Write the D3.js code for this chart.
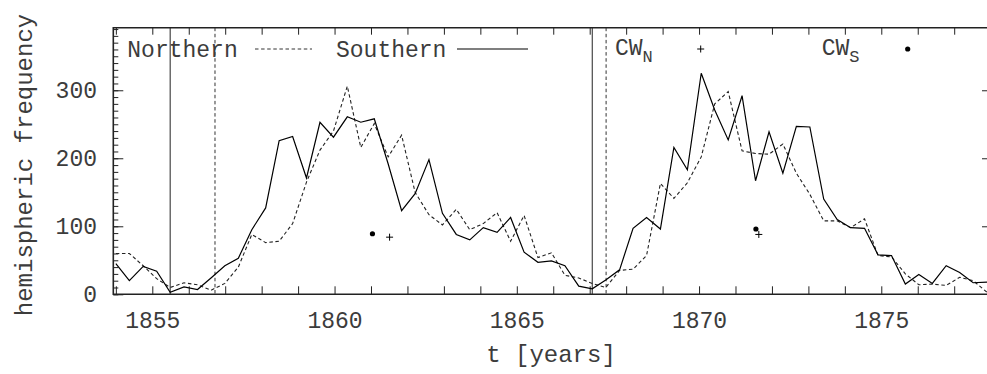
<!DOCTYPE html>
<html>
<head>
<meta charset="utf-8">
<script src="https://cdn.jsdelivr.net/npm/d3@7"></script>
<style>
  html, body { margin: 0; padding: 0; background: #fff; }
  svg { display: block; }
  text { font-family: "Liberation Mono", "DejaVu Sans Mono", monospace; fill: #3c3c3c; }
</style>
</head>
<body>
<svg id="chart" width="987" height="374"></svg>
<script>
// Sampling epochs (years), one every five solar rotations
const years = [
  1854.00, 1854.37, 1854.75, 1855.12, 1855.49, 1855.87, 1856.24, 1856.61, 1856.99, 1857.36,
  1857.73, 1858.11, 1858.48, 1858.85, 1859.23, 1859.60, 1859.97, 1860.35, 1860.72, 1861.09,
  1861.47, 1861.84, 1862.21, 1862.59, 1862.96, 1863.34, 1863.71, 1864.08, 1864.46, 1864.83,
  1865.20, 1865.58, 1865.95, 1866.32, 1866.70, 1867.07, 1867.44, 1867.82, 1868.19, 1868.56,
  1868.94, 1869.31, 1869.68, 1870.06, 1870.43, 1870.80, 1871.18, 1871.55, 1871.92, 1872.30,
  1872.67, 1873.04, 1873.42, 1873.79, 1874.16, 1874.54, 1874.91, 1875.28, 1875.66, 1876.03,
  1876.40, 1876.78, 1877.15, 1877.52, 1877.90
];

// Hemispheric frequency, northern hemisphere (dashed)
const northern = [
  60, 60, 42, 23, 10, 17, 14, 6, 16, 40,
  88, 76, 78, 104, 165, 212, 240, 306, 216, 251,
  202, 234, 150, 117, 102, 125, 95, 104, 120, 78,
  116, 54, 61, 28, 24, 16, 10, 35, 37, 57,
  163, 141, 164, 202, 280, 298, 211, 207, 206, 221,
  178, 147, 108, 108, 98, 111, 57, 55, 30, 14,
  15, 13, 25, 20, 3
];

// Hemispheric frequency, southern hemisphere (solid)
const southern = [
  45, 20, 41, 34, 3, 11, 7, 24, 42, 53,
  95, 127, 226, 232, 171, 253, 231, 261, 253, 258,
  192, 123, 148, 198, 119, 88, 80, 98, 91, 113,
  62, 47, 49, 42, 12, 8, 21, 36, 97, 113,
  96, 216, 183, 325, 271, 227, 292, 167, 239, 178,
  247, 246, 140, 110, 98, 97, 58, 57, 15, 29,
  16, 42, 32, 17, 18
];

// Epochs of cycle minima
const southernMinima = [1855.49, 1867.07];
const northernMinima = [1856.72, 1867.45];

// CW markers: epoch and frequency
const cwNYears = [1861.51, 1871.64];
const cwNValues = [84, 88];
const cwSYears = [1861.04, 1871.56];
const cwSValues = [89, 96];

// Axis ticks and labels
const xTickYears = d3.range(1854, 1878);
const xTickLabels = [1855, 1860, 1865, 1870, 1875];
const yTickLabels = [0, 100, 200, 300];
const yMinorTicks = d3.range(0, 400, 10);

const svg = d3.select("#chart");
const plotL = 113.3, plotR = 987, plotT = 27.7, plotB = 294.3;

const x = d3.scaleLinear().domain([1853.93, 1877.9]).range([plotL, plotR]);
const y = d3.scaleLinear().domain([0, 392]).range([plotB, plotT]);

svg.append("defs").append("clipPath").attr("id", "plotclip")
  .append("rect").attr("x", plotL).attr("y", plotT)
  .attr("width", plotR - plotL).attr("height", plotB - plotT);

const tickStyle = g => {
  g.select(".domain").remove();
  g.selectAll(".tick line").attr("stroke", "#222").attr("stroke-width", 1);
  g.selectAll(".tick text")
    .attr("font-family", "Liberation Mono, DejaVu Sans Mono, monospace")
    .attr("font-size", 23).attr("fill", "#3c3c3c");
};

// Bottom axis: yearly ticks pointing inward, labelled every five years
svg.append("g").attr("transform", `translate(0,${plotB})`)
  .call(d3.axisBottom(x).tickValues(xTickYears).tickSize(-8).tickPadding(17)
    .tickFormat(d => xTickLabels.includes(d) ? String(d) : ""))
  .call(tickStyle);

// Top axis: mirrored ticks
svg.append("g").attr("transform", `translate(0,${plotT})`)
  .call(d3.axisTop(x).tickValues(xTickYears).tickSize(-7).tickFormat(""))
  .call(tickStyle);

// Left axis: minor ticks every 10, major ticks with labels
svg.append("g").attr("transform", `translate(${plotL},0)`)
  .call(d3.axisLeft(y).tickValues(yMinorTicks).tickSize(-5).tickFormat(""))
  .call(tickStyle);
svg.append("g").attr("transform", `translate(${plotL},0)`)
  .call(d3.axisLeft(y).tickValues(yTickLabels).tickSize(-10).tickPadding(16.3)
    .tickFormat(d => String(d)))
  .call(tickStyle);

// Right axis: short inward ticks
svg.append("g").attr("transform", `translate(${plotR},0)`)
  .call(d3.axisRight(y).tickValues(yTickLabels.filter(d => d > 0)).tickSize(-5).tickFormat(""))
  .call(tickStyle);

// Frame
svg.append("path")
  .attr("d", `M${plotR},${plotT}H${plotL}V${plotB}H${plotR}`)
  .attr("fill", "none").attr("stroke", "#222").attr("stroke-width", 1.6);

const plot = svg.append("g").attr("clip-path", "url(#plotclip)");

// Minimum epochs
plot.selectAll(".minS").data(southernMinima).join("line")
  .attr("x1", d => x(d)).attr("x2", d => x(d))
  .attr("y1", plotT).attr("y2", plotB)
  .attr("stroke", "#222").attr("stroke-width", 1);
plot.selectAll(".minN").data(northernMinima).join("line")
  .attr("x1", d => x(d)).attr("x2", d => x(d))
  .attr("y1", plotT).attr("y2", plotB)
  .attr("stroke", "#333").attr("stroke-width", 1).attr("stroke-dasharray", "3.5,2.6");

const line = values => d3.line()
  .x((d, i) => x(years[i]))
  .y(d => y(d))(values);

plot.append("path").attr("d", line(northern))
  .attr("fill", "none").attr("stroke", "#222").attr("stroke-width", 1.1)
  .attr("stroke-dasharray", "3.5,2.6");
plot.append("path").attr("d", line(southern))
  .attr("fill", "none").attr("stroke", "#000").attr("stroke-width", 1.2)
  .attr("stroke-linejoin", "miter");

// CW markers
const plus = (g, cx, cy) => g.append("path")
  .attr("d", `M${cx - 3.5},${cy}H${cx + 3.5}M${cx},${cy - 3.5}V${cy + 3.5}`)
  .attr("stroke", "#000").attr("stroke-width", 1);
cwNYears.forEach((t, i) => plus(plot, x(t), y(cwNValues[i])));
plot.selectAll(".cwS").data(cwSYears).join("circle")
  .attr("cx", d => x(d)).attr("cy", (d, i) => y(cwSValues[i]))
  .attr("r", 2.6).attr("fill", "#000");

// Key
const key = svg.append("g");
const keyY = 49;
key.append("text").attr("x", 127.3).attr("y", 56.5).attr("font-size", 23).text("Northern");
key.append("line").attr("x1", 255).attr("x2", 312).attr("y1", keyY).attr("y2", keyY)
  .attr("stroke", "#333").attr("stroke-width", 1).attr("stroke-dasharray", "3.5,2.6");
key.append("text").attr("x", 336).attr("y", 56.5).attr("font-size", 23).text("Southern");
key.append("line").attr("x1", 457).attr("x2", 528).attr("y1", keyY).attr("y2", keyY)
  .attr("stroke", "#000").attr("stroke-width", 1.2);

const cwLabel = (x0, sub) => {
  const t = key.append("text").attr("x", x0).attr("y", 55).attr("font-size", 23);
  t.append("tspan").text("CW");
  t.append("tspan").attr("font-size", 17).attr("dy", 6.5).text(sub);
};
cwLabel(615, "N");
plus(key, 700.7, keyY);
cwLabel(821.7, "S");
key.append("circle").attr("cx", 907.7).attr("cy", keyY).attr("r", 2.6).attr("fill", "#000");

// Axis titles
svg.append("text").attr("x", 551).attr("y", 362)
  .attr("text-anchor", "middle").attr("font-size", 24).text("t [years]");
svg.append("text")
  .attr("transform", "translate(32,165) rotate(-90)")
  .attr("text-anchor", "middle").attr("font-size", 24).text("hemispheric frequency");
</script>
</body>
</html>
